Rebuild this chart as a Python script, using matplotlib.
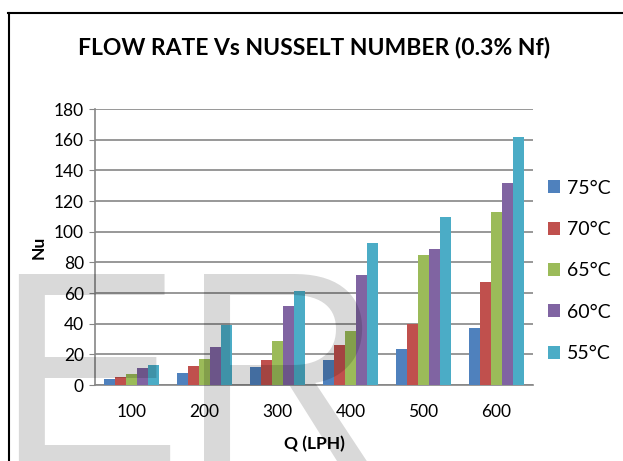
import numpy as np
from matplotlib import pyplot as plt
from matplotlib.lines import Line2D

flow_rates = ['100', '200', '300', '400', '500', '600']
temps = ['75°C', '70°C', '65°C', '60°C', '55°C']
nu_75 = [3.9, 8.0, 11.8, 16.0, 23.4, 36.9]
nu_70 = [5.2, 12.5, 16.6, 26.0, 40.0, 66.9]
nu_65 = [7.0, 16.9, 28.9, 35.4, 84.5, 112.7]
nu_60 = [11.0, 24.7, 51.6, 71.8, 89.0, 131.6]
nu_55 = [13.0, 39.3, 61.0, 92.5, 109.6, 161.7]
colors = ['#4F81BD', '#C0504D', '#9BBB59', '#8064A2', '#4BACC6']

W, H = 623, 461
fig = plt.figure(figsize=(W / 100, H / 100), dpi=100)
ax = fig.add_axes([95 / W, 1 - 385 / H, (533 - 95) / W, (385 - 109) / H])

x = np.arange(len(flow_rates))
bw = 0.15
series = [nu_75, nu_70, nu_65, nu_60, nu_55]
for i, (vals, c, lab) in enumerate(zip(series, colors, temps)):
    ax.bar(x + (i - 2) * bw, vals, bw, color=c, label=lab, zorder=3)

ax.set_xlim(-0.5, len(flow_rates) - 0.5)
ax.set_ylim(0, 180)
ax.set_yticks(range(0, 181, 20))
ax.set_xticks(x)
ax.set_xticklabels(flow_rates)
ax.yaxis.grid(True, color='#868686', lw=1.2, zorder=0)
for s in ['top', 'right']:
    ax.spines[s].set_visible(False)
for s in ['left', 'bottom']:
    ax.spines[s].set_color('#868686')
    ax.spines[s].set_linewidth(1.2)
ax.tick_params(axis='y', length=4, color='#868686', labelsize=12.5, pad=4)
ax.tick_params(axis='x', length=0, labelsize=12.5, pad=14)
for t in ax.get_xticklabels() + ax.get_yticklabels():
    t.set_family('Lato')

ax.set_xlabel('Q (LPH)', fontsize=12.5, fontweight='bold', family='Lato', labelpad=11)
ax.set_ylabel('Nu', fontsize=12.5, fontweight='bold', family='Lato', labelpad=5)

fig.text(314 / W, 1 - 48 / H, 'FLOW RATE Vs NUSSELT NUMBER (0.3% Nf)', ha='center', va='center',
         fontsize=16.5, fontweight='bold', family='Lato')

leg = ax.legend(loc='center left', bbox_to_anchor=(1.0, 0.414), frameon=False,
                prop={'family': 'Lato', 'size': 14}, handlelength=0.65, handleheight=0.65,
                labelspacing=1.25, handletextpad=0.35, borderaxespad=0.35)

# frame of the chart area
fig.add_artist(Line2D([8 / W, 1], [1 - 13 / H, 1 - 13 / H], color='black', lw=1.5))
fig.add_artist(Line2D([9 / W, 9 / W], [0, 1 - 13 / H], color='black', lw=1.5))

# watermark
fig.text(-5 / W, 1 - 466 / H, 'ER', fontsize=201, family='Liberation Sans', color='black',
         alpha=0.15, ha='left', va='baseline', zorder=10)

fig.savefig('out.png', dpi=100)
